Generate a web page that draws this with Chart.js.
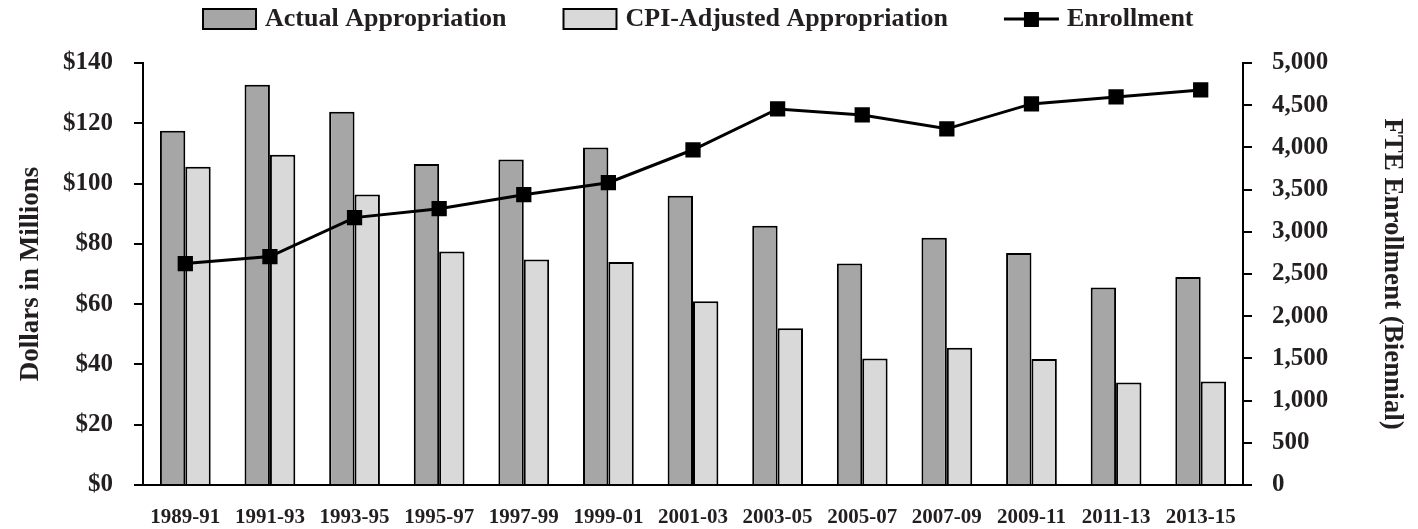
<!DOCTYPE html>
<html>
<head>
<meta charset="utf-8">
<script src="https://cdn.jsdelivr.net/npm/chart.js@4"></script>
<style>
    html, body { margin: 0; padding: 0; background: #fff; }
    #wrap { width: 1418px; height: 529px; }
</style>
</head>
<body>
<div id="wrap"><canvas id="myChart"></canvas></div>
<script>
const labels = ['1989-91', '1991-93', '1993-95', '1995-97', '1997-99', '1999-01', '2001-03',
    '2003-05', '2005-07', '2007-09', '2009-11', '2011-13', '2013-15'];
const actualAppropriation = [117.5, 132.8, 123.8, 106.5, 108, 112, 96, 86, 73.5, 82, 77, 65.5, 69];
const cpiAdjusted = [105.6, 109.6, 96.4, 77.5, 74.8, 74, 61, 52, 42, 45.5, 41.8, 34, 34.3];
const enrollment = [2624, 2707, 3168, 3274, 3440, 3582, 3972, 4456, 4385, 4220, 4515, 4598, 4681];

const textColor = '#231f20';
const fontFamily = "'Liberation Serif', 'DejaVu Serif', serif";
const iconSlot = 100;

// legend icons: transparent on the left, icon pushed to the right end
function legendBox(fill) {
    const c = document.createElement('canvas');
    c.width = iconSlot + 12; c.height = 22;
    const g = c.getContext('2d');
    const x = c.width - 55;
    g.fillStyle = fill;
    g.fillRect(x, 1, 53, 20);
    g.lineWidth = 2;
    g.strokeStyle = '#000';
    g.strokeRect(x, 1, 53, 20);
    return c;
}

function legendLine() {
    const c = document.createElement('canvas');
    c.width = iconSlot + 12; c.height = 22;
    const g = c.getContext('2d');
    const x = c.width - 56;
    g.strokeStyle = '#000';
    g.lineWidth = 3;
    g.beginPath();
    g.moveTo(x, 11);
    g.lineTo(x + 55, 11);
    g.stroke();
    g.fillStyle = '#000';
    g.fillRect(x + 20, 4, 15, 15);
    return c;
}

const legendIcons = [legendBox('#a6a6a6'), legendBox('#d9d9d9'), legendLine()];

const legendTweak = {
    id: 'legendTweak',
    beforeInit(chart) {
        const legend = chart.legend;
        const fit = legend.fit;
        legend.fit = function () {
            fit.call(this);
            this.height += 21;
        };
    },
    afterLayout(chart) {
        chart.legend.left = 146;
    }
};

const ctx = document.getElementById('myChart').getContext('2d');
const myChart = new Chart(ctx, {
    type: 'bar',
    data: {
        labels: labels,
        datasets: [{
                label: 'Actual Appropriation',
                data: actualAppropriation,
                backgroundColor: '#a6a6a6',
                borderColor: '#000',
                borderWidth: 2,
                yAxisID: 'y',
                order: 1
            }, {
                label: 'CPI-Adjusted Appropriation',
                data: cpiAdjusted,
                backgroundColor: '#d9d9d9',
                borderColor: '#000',
                borderWidth: 2,
                yAxisID: 'y',
                order: 1
            }, {
                type: 'line',
                label: 'Enrollment',
                data: enrollment,
                borderColor: '#000',
                backgroundColor: '#000',
                borderWidth: 3,
                pointStyle: 'rect',
                pointRadius: 10.8,
                pointBorderWidth: 0,
                yAxisID: 'y1',
                tension: 0,
                order: 0
            }]
    },
    plugins: [legendTweak],
    options: {
        responsive: true,
        maintainAspectRatio: false,
        animation: false,
        layout: {
            padding: { left: 10, right: 10, top: 0, bottom: 2 }
        },
        datasets: {
            bar: {
                barPercentage: 1,
                categoryPercentage: 0.6
            }
        },
        plugins: {
            tooltip: { enabled: false },
            legend: {
                position: 'top',
                align: 'start',
                labels: {
                    color: textColor,
                    font: { family: fontFamily, size: 26, weight: 'bold' },
                    usePointStyle: true,
                    pointStyleWidth: iconSlot,
                    boxHeight: 20,
                    padding: 6,
                    generateLabels: function (chart) {
                        return chart.data.datasets.map((ds, i) => ({
                            text: ds.label,
                            datasetIndex: i,
                            pointStyle: legendIcons[i],
                            fillStyle: ds.backgroundColor,
                            strokeStyle: '#000',
                            lineWidth: 0,
                            fontColor: textColor
                        }));
                    }
                }
            }
        },
        scales: {
            x: {
                grid: { display: false },
                border: { display: true, color: '#000', width: 2 },
                ticks: {
                    color: textColor,
                    font: { family: fontFamily, size: 21, weight: 'bold' },
                    maxRotation: 0,
                    autoSkip: false,
                    padding: 12
                },
                afterFit: function (scale) { scale.height = 42; }
            },
            y: {
                position: 'left',
                min: 0,
                max: 140,
                ticks: {
                    stepSize: 20,
                    color: textColor,
                    font: { family: fontFamily, size: 25, weight: 'bold' },
                    padding: 21,
                    callback: (v) => '$' + v
                },
                grid: {
                    drawOnChartArea: false,
                    drawTicks: true,
                    tickLength: 9,
                    color: '#000',
                    lineWidth: 2
                },
                border: { color: '#000', width: 2 },
                title: {
                    display: true,
                    text: 'Dollars in Millions',
                    color: textColor,
                    font: { family: fontFamily, size: 27, weight: 'bold' },
                    padding: { top: 5, bottom: 0 }
                },
                afterFit: function (scale) { scale.width = 133; }
            },
            y1: {
                position: 'right',
                min: 0,
                max: 5000,
                ticks: {
                    stepSize: 500,
                    color: textColor,
                    font: { family: fontFamily, size: 25, weight: 'bold' },
                    padding: 20,
                    callback: (v) => v.toLocaleString('en-US')
                },
                grid: {
                    drawOnChartArea: false,
                    drawTicks: true,
                    tickLength: 9,
                    color: '#000',
                    lineWidth: 2
                },
                border: { color: '#000', width: 2 },
                title: {
                    display: true,
                    text: 'FTE Enrollment (Biennial)',
                    color: textColor,
                    font: { family: fontFamily, size: 27, weight: 'bold' },
                    padding: { top: 0, bottom: 0 }
                },
                afterFit: function (scale) { scale.width = 165; }
            }
        }
    }
});
</script>
</body>
</html>
